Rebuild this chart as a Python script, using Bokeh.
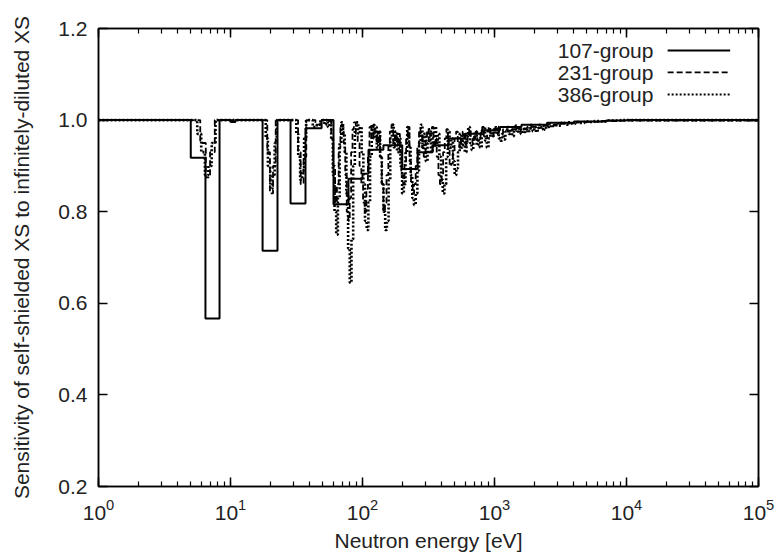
from bokeh.plotting import figure
from bokeh.models import (Range1d, LogAxis, LinearAxis, LogTicker, FixedTicker,
                          PrintfTickFormatter, CustomJSTickFormatter)
from bokeh.core.properties import value
from bokeh.embed import file_html
from bokeh.resources import INLINE

# ---------------- data (group lower edges [eV] and sensitivity in that group) -------------
g107_edges = [1, 5.0, 6.46, 8.26, 10.0, 10.9, 17.5, 22.7, 28.5, 37.0, 49.0, 60.3, 78.3,
              100, 111, 144, 200, 262, 340, 450, 600, 800, 1100, 1600, 2500, 4000, 7000,
              10000, 100000]
g107_vals = [1.0, 0.918, 0.567, 1.0, 0.996, 1.0, 0.715, 1.0, 0.818, 0.982, 1.0, 0.816, 0.872,
             0.883, 0.935, 0.945, 0.893, 0.93, 0.945, 0.96, 0.97, 0.978, 0.985, 0.99, 0.994,
             0.997, 0.999, 1.0, 1.0]

g231_edges = [1, 5.9, 6.5, 7.0, 7.6, 19.0, 19.9, 21.0, 22.0, 32.5, 34.0, 35.8, 37.5, 44, 48,
              58, 60, 62, 64, 66, 68, 70, 72, 74, 76, 78, 80, 82, 84, 86, 89, 92, 95, 98, 101,
              104, 107, 110, 113, 117, 121, 124, 128, 132, 136, 140, 144, 148, 152, 157, 161,
              166, 171, 176, 181, 186, 192, 197, 203, 208, 214, 220, 227, 233, 240, 246, 253,
              260, 268, 275, 283, 291, 300, 308, 317, 326, 336, 345, 355, 365, 376, 386, 397,
              408, 420, 432, 444, 457, 470, 484, 498, 512, 527, 542, 558, 574, 590, 607, 625,
              643, 661, 680, 700, 720, 741, 762, 784, 807, 830, 854, 879, 904, 930, 957, 985,
              1013, 1080, 1160, 1250, 1350, 1460, 1580, 1720, 1880, 2060, 2270, 2500, 2800,
              3150, 3600, 4200, 5000, 6500, 9000, 100000]
g231_vals = [1.0, 0.95, 0.875, 0.93, 1.0, 0.93, 0.84, 0.90, 1.0, 0.93, 0.86, 0.92, 1.0, 0.99, 1.0,
             0.96, 0.90, 0.82, 0.86, 0.94, 0.99, 0.985, 0.95, 0.88, 0.80, 0.78, 0.83, 0.93, 0.98,
             0.995, 0.97, 0.95, 0.90, 0.86, 0.82, 0.80, 0.85, 0.92, 0.985, 0.96, 0.99, 0.975,
             0.95, 0.975, 0.92, 0.86, 0.80, 0.82, 0.88, 0.95, 0.975, 0.99, 0.94, 0.97, 0.95, 0.97,
             0.93, 0.88, 0.86, 0.91, 0.96, 0.985, 0.91, 0.86, 0.84, 0.86, 0.90, 0.94, 0.98,
             0.965, 0.94, 0.92, 0.955, 0.98, 0.955, 0.97, 0.985, 0.94, 0.96, 0.92, 0.88, 0.86,
             0.88, 0.93, 0.96, 0.98, 0.94, 0.90, 0.905, 0.93, 0.96, 0.975, 0.95, 0.94, 0.965,
             0.975, 0.955, 0.945, 0.965, 0.98, 0.96, 0.95, 0.965, 0.975, 0.955, 0.96, 0.975,
             0.985, 0.965, 0.96, 0.975, 0.985, 0.97, 0.965, 0.975, 0.985, 0.97, 0.98, 0.975,
             0.98, 0.975, 0.982, 0.98, 0.985, 0.983, 0.988, 0.987, 0.99, 0.992, 0.993, 0.995,
             0.996, 0.998, 0.999, 1.0, 1.0]

g386_edges = [1, 5.6, 6.0, 6.4, 6.8, 7.2, 7.7, 18.5, 19.2, 20.0, 20.8, 21.6, 22.4, 31.5, 32.6,
              33.7, 34.9, 36.1, 37.4, 42, 45, 48,
              50, 51.5, 53, 54.6, 56.2, 57.9, 59.6, 61.4, 63.2, 65.1, 67.1, 69.1, 71.2, 73.3,
              75.5, 77.8, 80.1, 82.5, 85.0, 87.5, 90.1, 92.8, 95.6, 98.5, 101.5, 104.5, 107.6,
              110.8, 114.1, 117.5, 121, 124.6, 128.3, 132.1, 136, 140, 144.2, 148.5, 153, 157.6,
              162.3, 167.2, 172.2, 177.4, 182.7, 188.2, 193.8, 199.6, 205.6, 211.8, 218.2, 224.7,
              231.4, 238.3, 245.4, 252.8, 260.4, 268.2, 276.2, 284.5, 293, 301.8, 310.9, 320.2,
              329.8, 339.7, 349.9, 360.4, 371.2, 382.3, 393.8, 405.6, 417.8, 430.3, 443.2, 456.5,
              470.2, 484.3, 498.8, 513.8, 529.2, 545.1, 561.5, 578.3, 595.7, 613.6, 632, 651,
              670.5, 690.6, 711.3, 732.6, 754.6, 777.2, 800.5, 824.5, 849.2, 874.7, 901, 928,
              956, 985, 1015, 1045, 1076, 1108, 1141, 1175, 1210, 1246, 1283, 1322, 1362, 1403,
              1445, 1488, 1533, 1579, 1626, 1675, 1725, 1777, 1830, 1885, 1942, 2000, 2060, 2122,
              2185, 2251, 2318, 2388, 2460, 2533, 2609, 2688, 2768, 2851, 2937, 3025, 3200, 3400,
              3600, 3850, 4100, 4400, 4800, 5200, 5700, 6300, 7000, 8000, 9000, 100000]
g386_vals = [1.0, 0.97, 0.93, 0.88, 0.90, 0.95, 1.0, 0.96, 0.90, 0.85, 0.88, 0.95, 1.0, 0.97,
             0.92, 0.87, 0.89, 0.96, 1.0, 0.985, 0.99, 1.0,
             1.0, 0.99, 1.0, 0.985, 1.0, 0.96, 0.88, 0.80, 0.75, 0.83, 0.95, 0.995, 0.97, 0.93,
             0.84, 0.72, 0.645, 0.74, 0.90, 0.98, 0.995, 0.97, 0.985, 0.93, 0.86, 0.78, 0.76,
             0.82, 0.92, 0.99, 0.96, 0.985, 0.94, 0.975, 0.92, 0.86, 0.80, 0.76, 0.78, 0.87,
             0.96, 0.99, 0.95, 0.975, 0.93, 0.96, 0.90, 0.84, 0.86, 0.93, 0.985, 0.94,
             0.88, 0.83, 0.815, 0.84, 0.89, 0.95, 0.99, 0.94, 0.97, 0.91, 0.95, 0.98,
             0.93, 0.96, 0.985, 0.95, 0.97, 0.92, 0.87, 0.84, 0.86, 0.92, 0.975, 0.94,
             0.96, 0.91, 0.88, 0.895, 0.93, 0.97, 0.94, 0.955, 0.93, 0.965, 0.985, 0.95,
             0.935, 0.96, 0.975, 0.945, 0.96, 0.94, 0.97, 0.985, 0.955, 0.94, 0.96, 0.975,
             0.965, 0.98, 0.97, 0.985, 0.96, 0.955, 0.97, 0.958, 0.975, 0.985, 0.97, 0.98, 0.965,
             0.978, 0.988, 0.975, 0.983, 0.97, 0.98, 0.974, 0.985, 0.973, 0.982, 0.99, 0.976,
             0.985, 0.974, 0.983, 0.99, 0.98, 0.987, 0.979, 0.99, 0.985, 0.992, 0.984, 0.99,
             0.986, 0.993, 0.988, 0.994, 0.99, 0.995, 0.992, 0.996, 0.994, 0.997, 0.996, 0.998,
             0.997, 0.999, 0.999, 1.0, 1.0]

series_names = ["107-group", "231-group", "386-group"]
y_ticks = [0.2, 0.4, 0.6, 0.8, 1.0, 1.2]

# ---------------- styling ----------------
FONT = "Liberation Sans"
TXT = "#222222"
FS = "21px"
styles = [dict(line_width=2.0, line_dash="solid"),
          dict(line_width=1.8, line_dash="6 3"),
          dict(line_width=2.6, line_dash="2 2")]

p = figure(width=776, height=556, x_axis_type="log",
           x_range=Range1d(1, 1e5), y_range=Range1d(0.2, 1.2),
           output_backend="svg", toolbar_location=None,
           min_border_left=98, min_border_right=18, min_border_top=28, min_border_bottom=70)
p.background_fill_color = "white"
p.border_fill_color = "white"
p.outline_line_color = "black"
p.outline_line_width = 1.5
p.xgrid.visible = False
p.ygrid.visible = False

for edges, vals, st in zip([g107_edges, g231_edges, g386_edges],
                           [g107_vals, g231_vals, g386_vals], styles):
    p.step(x=edges, y=vals, mode="after", line_color="black", **st)

# legend (gnuplot style: text right-aligned, line sample to the right)
leg_y = [1.152, 1.104, 1.056]
leg_text_x = 1.6e4
leg_line_x = [2.05e4, 6.1e4]
p.text(x=[leg_text_x] * 3, y=leg_y, text=series_names, text_align="right",
       text_baseline="middle", text_font=value(FONT), text_font_size=FS, text_color=TXT)
for yy, st in zip(leg_y, styles):
    p.line(x=leg_line_x, y=[yy, yy], line_color="black",
           line_width=min(st["line_width"], 2.0), line_dash=st["line_dash"])

def style_axis(ax):
    ax.axis_line_color = "black"
    ax.axis_line_width = 1.5
    ax.major_tick_line_color = "black"
    ax.minor_tick_line_color = "black"
    ax.major_tick_line_width = 1.5
    ax.minor_tick_line_width = 1.2
    ax.major_tick_in = 9
    ax.major_tick_out = 0
    ax.minor_tick_in = 5
    ax.minor_tick_out = 0
    ax.major_label_text_font = FONT
    ax.major_label_text_font_size = FS
    ax.major_label_text_color = TXT
    ax.axis_label_text_font = FONT
    ax.axis_label_text_font_size = FS
    ax.axis_label_text_font_style = "normal"
    ax.axis_label_text_color = TXT

# bottom axis
xa = p.xaxis[0]
style_axis(xa)
xa.ticker = LogTicker(num_minor_ticks=10)
xa.axis_label = "Neutron energy [eV]"
xa.major_label_standoff = 12
xa.axis_label_standoff = 6

# left axis
ya = p.yaxis[0]
style_axis(ya)
ya.ticker = FixedTicker(ticks=y_ticks)
ya.minor_tick_line_color = None
ya.formatter = PrintfTickFormatter(format="%.1f")
ya.axis_label = "Sensitivity of self-shielded XS to infinitely-diluted XS"
ya.major_label_standoff = 11
ya.axis_label_standoff = 22

# mirror axes (ticks only)
blank = CustomJSTickFormatter(code="return '';")
top = LogAxis(ticker=LogTicker(num_minor_ticks=10), formatter=blank)
style_axis(top)
top.major_label_text_font_size = "0px"
top.major_label_standoff = 0
p.add_layout(top, "above")

right = LinearAxis(ticker=FixedTicker(ticks=y_ticks), formatter=blank)
style_axis(right)
right.minor_tick_line_color = None
right.major_label_text_font_size = "0px"
right.major_label_standoff = 0
p.add_layout(right, "right")

open("out.html", "w").write(file_html(p, INLINE))
